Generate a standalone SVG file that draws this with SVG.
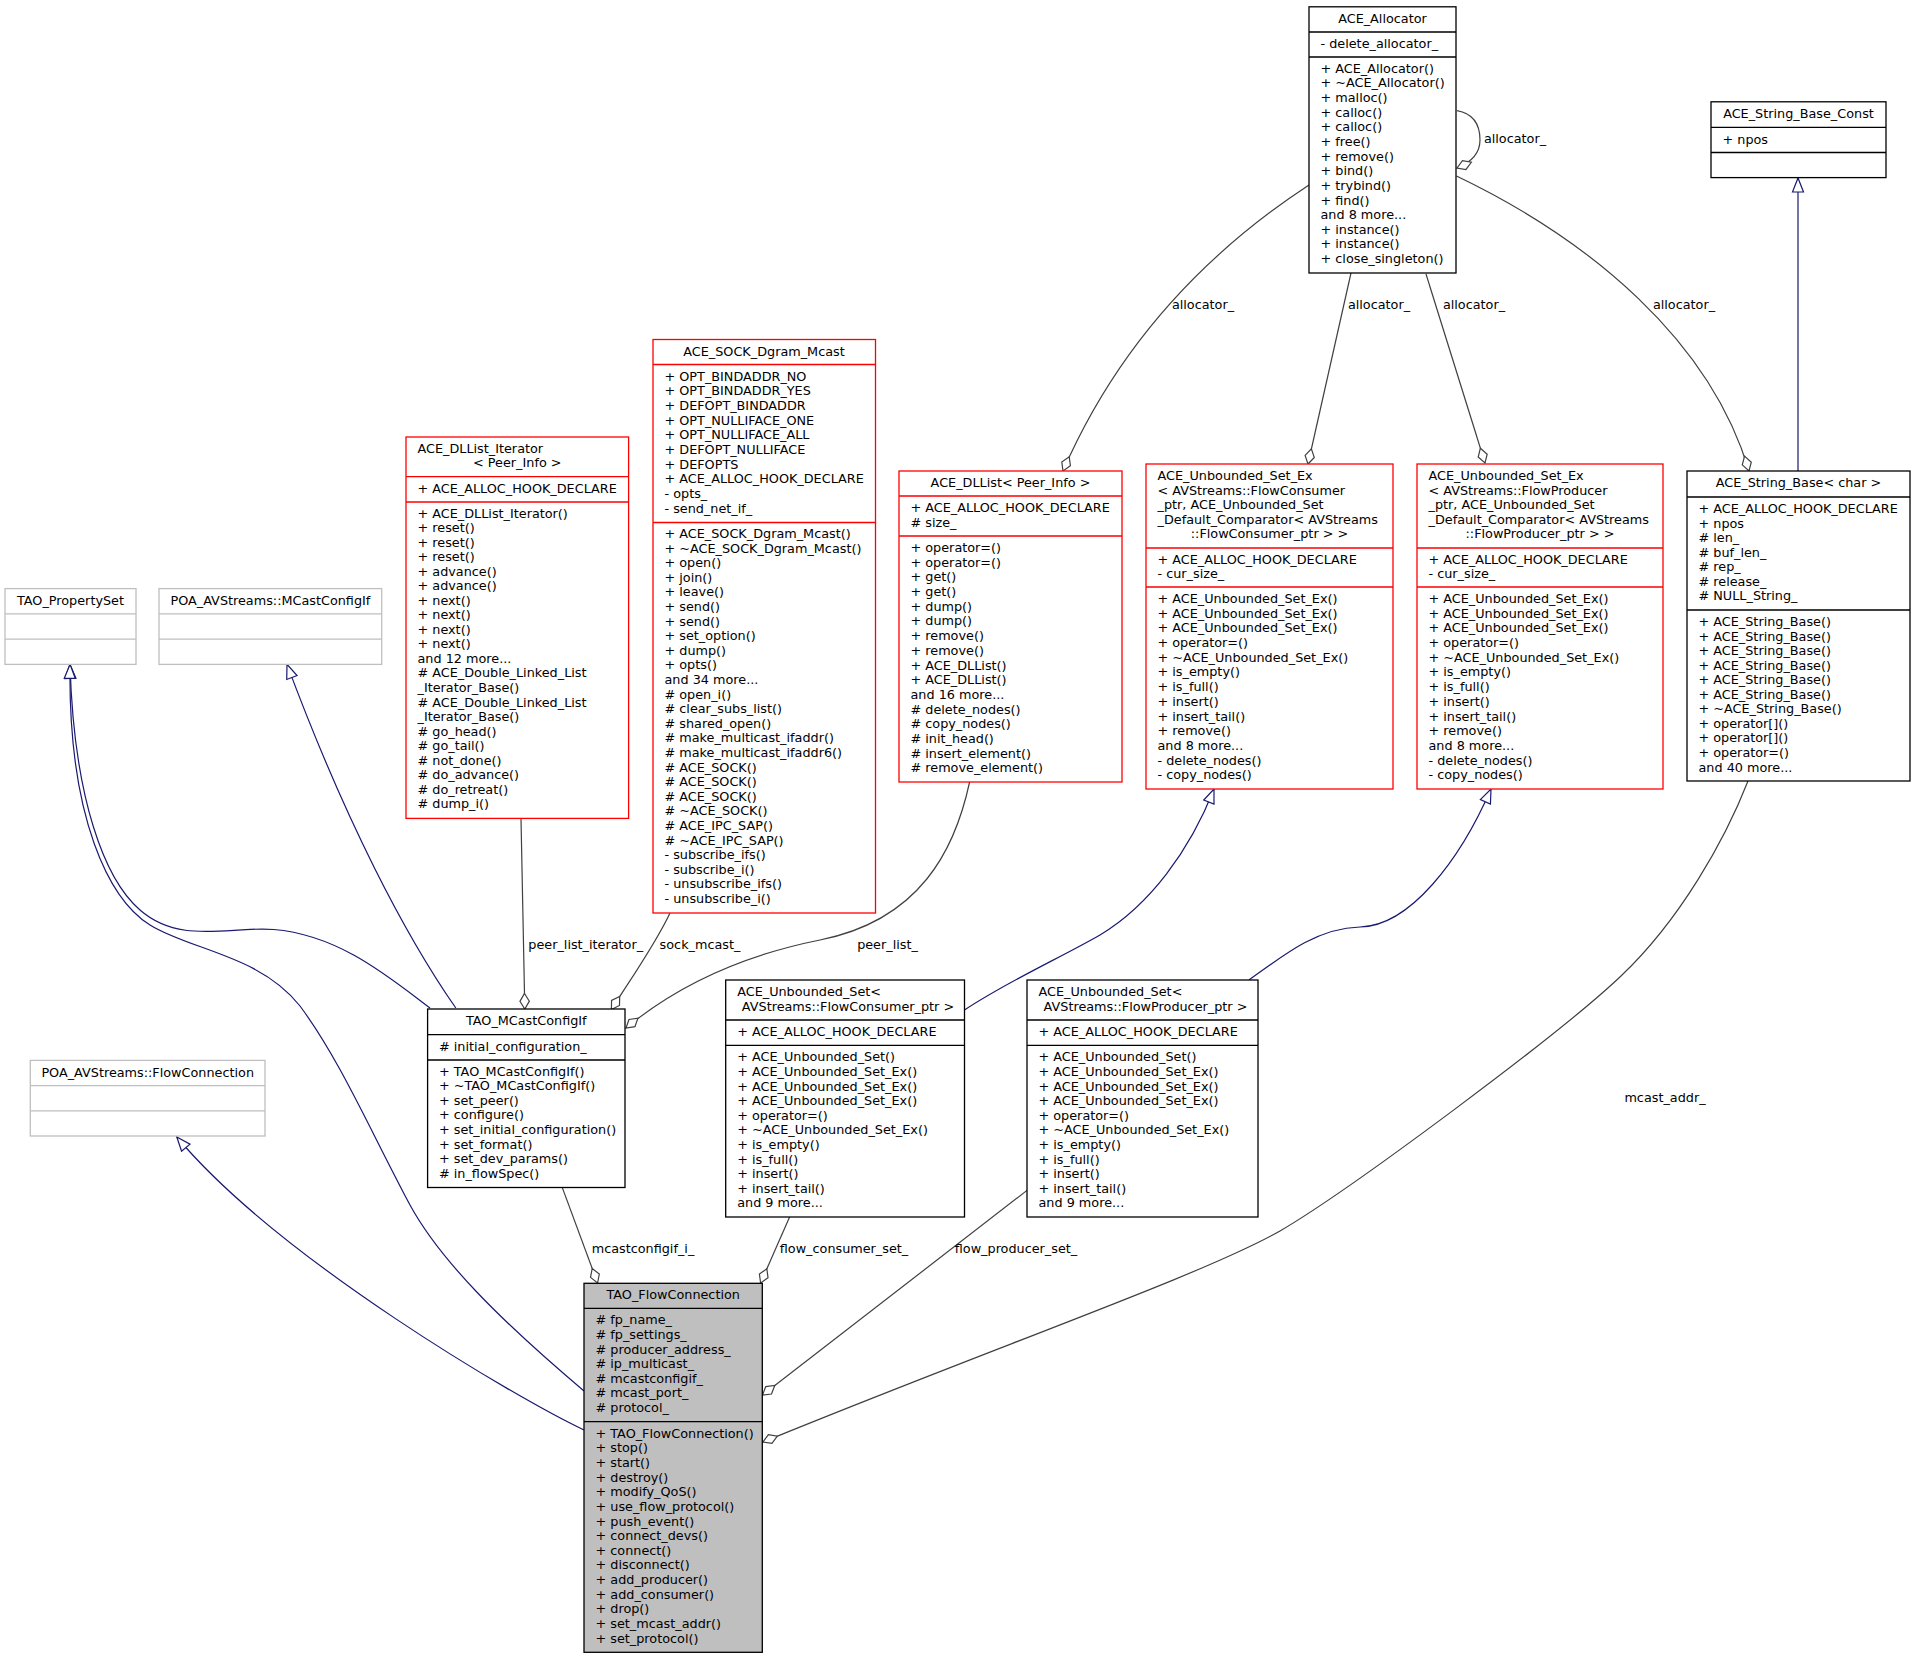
<svg xmlns="http://www.w3.org/2000/svg" width="1916" height="1659" viewBox="0 0 1916 1659">
<style>
text{font-family:"DejaVu Sans","Liberation Sans",sans-serif;font-size:12.8px;fill:#000}
.c{text-anchor:middle}
.box{fill:#fff;stroke:#000;stroke-width:1.3}
.red{fill:#fff;stroke:#ff0000;stroke-width:1.3}
.gry{fill:#fff;stroke:#bfbfbf;stroke-width:1.3}
.cur{fill:#bfbfbf;stroke:#000;stroke-width:1.3}
.sb{stroke:#000;stroke-width:1.3;fill:none}
.sr{stroke:#ff0000;stroke-width:1.3;fill:none}
.sg{stroke:#bfbfbf;stroke-width:1.3;fill:none}
.u{stroke:#404040;stroke-width:1.2;fill:none;marker-end:url(#dia)}
.i{stroke:#191970;stroke-width:1.2;fill:none;marker-end:url(#tri)}
</style>
<defs>
<marker id="tri" markerUnits="userSpaceOnUse" markerWidth="20" markerHeight="20" refX="15" refY="6" orient="auto" overflow="visible"><path d="M1,0.5 L15,6 L1,11.5 Z" fill="#fff" stroke="#191970" stroke-width="1.2"/></marker>
<marker id="dia" markerUnits="userSpaceOnUse" markerWidth="20" markerHeight="20" refX="16" refY="5.5" orient="auto" overflow="visible"><path d="M0.5,5.5 L8.25,0.8 L16,5.5 L8.25,10.2 Z" fill="#fff" stroke="#404040" stroke-width="1.2"/></marker>
</defs>
<rect width="1916" height="1659" fill="#fff"/>

<g id="edges">
<path class="u" d="M1309,185 C1210,250 1120,340 1063,471"/>
<path class="u" d="M1351,273 L1308,464"/>
<path class="u" d="M1426,274 L1485,463"/>
<path class="u" d="M1456.5,176 C1590,240 1710,340 1749,471"/>
<path class="u" d="M1457,110.6 C1476,114 1480,128 1480,140 C1480,152 1472,162 1457,168"/>
<path class="i" d="M1798,471 L1798,178"/>
<path class="i" d="M964.5,1010 C1010,980 1060,958 1100,935 C1150,905 1190,850 1214,789"/>
<path class="i" d="M1249,980 C1290,950 1320,928 1360,927 C1410,926 1460,860 1491,789"/>
<path class="u" d="M670,913 C655,945 630,980 611.4,1009.5"/>
<path class="u" d="M521,818.4 L524.8,1009"/>
<path class="u" d="M969.6,782 C955,850 920,920 820,940 C760,952 690,975 626,1028"/>
<path class="i" d="M430,1008 C390,978 340,935 273.6,929.5 C230,926 180,945 140,910 C105,880 74,800 70,664.4"/>
<path class="i" d="M584,1391 C500,1320 440,1260 410,1205 C370,1130 340,1060 300,1006 C260,955 190,950 150,925 C110,900 68,820 70,664.4"/>
<path class="i" d="M455.8,1008 C405,935 345,820 287,664.4"/>
<path class="i" d="M584,1430 C520,1400 280,1260 176.8,1137"/>
<path class="u" d="M562.3,1187.6 L597.6,1283"/>
<path class="u" d="M789.6,1217 L760.6,1283"/>
<path class="u" d="M1027,1190.4 L762.5,1395"/>
<path class="u" d="M1748,781 C1725,840 1680,920 1621,976 C1560,1034 1350,1190 1280,1231 C1200,1276 1000,1345 763,1442"/>
<text class="c" x="1203" y="309">allocator_</text>
<text class="c" x="1379" y="309">allocator_</text>
<text class="c" x="1474" y="309">allocator_</text>
<text class="c" x="1684" y="309">allocator_</text>
<text class="c" x="1515" y="142.5">allocator_</text>
<text class="c" x="585.7" y="949">peer_list_iterator_</text>
<text class="c" x="700" y="949">sock_mcast_</text>
<text class="c" x="887.5" y="949">peer_list_</text>
<text class="c" x="643" y="1253">mcastconfigif_i_</text>
<text class="c" x="844" y="1253">flow_consumer_set_</text>
<text class="c" x="1016" y="1253">flow_producer_set_</text>
<text class="c" x="1665" y="1102">mcast_addr_</text>
</g>

<g id="node-ACE_Allocator">
<rect class="box" x="1309" y="6.8" width="147" height="266.2"/>
<path class="sb" d="M1309,32 H1456 M1309,57 H1456"/>
<text class="c" x="1382.5" y="23">ACE_Allocator</text>
<text x="1320.5" y="48">- delete_allocator_</text>
<text x="1320.5" y="72.8"><tspan x="1320.5">+ ACE_Allocator()</tspan><tspan x="1320.5" dy="14.64">+ ~ACE_Allocator()</tspan><tspan x="1320.5" dy="14.64">+ malloc()</tspan><tspan x="1320.5" dy="14.64">+ calloc()</tspan><tspan x="1320.5" dy="14.64">+ calloc()</tspan><tspan x="1320.5" dy="14.64">+ free()</tspan><tspan x="1320.5" dy="14.64">+ remove()</tspan><tspan x="1320.5" dy="14.64">+ bind()</tspan><tspan x="1320.5" dy="14.64">+ trybind()</tspan><tspan x="1320.5" dy="14.64">+ find()</tspan><tspan x="1320.5" dy="14.64">and 8 more...</tspan><tspan x="1320.5" dy="14.64">+ instance()</tspan><tspan x="1320.5" dy="14.64">+ instance()</tspan><tspan x="1320.5" dy="14.64">+ close_singleton()</tspan></text>
</g>

<g id="node-ACE_String_Base_Const">
<rect class="box" x="1711" y="101.8" width="175" height="75.8"/>
<path class="sb" d="M1711,127.3 H1886 M1711,152.5 H1886"/>
<text class="c" x="1798.5" y="118">ACE_String_Base_Const</text>
<text x="1722.5" y="143.5">+ npos</text>
</g>

<g id="node-ACE_SOCK_Dgram_Mcast">
<rect class="red" x="653" y="339.5" width="222.5" height="573.5"/>
<path class="sr" d="M653,364.5 H875.5 M653,522.5 H875.5"/>
<text class="c" x="764" y="355.5">ACE_SOCK_Dgram_Mcast</text>
<text x="664.5" y="380.8"><tspan x="664.5">+ OPT_BINDADDR_NO</tspan><tspan x="664.5" dy="14.67">+ OPT_BINDADDR_YES</tspan><tspan x="664.5" dy="14.67">+ DEFOPT_BINDADDR</tspan><tspan x="664.5" dy="14.67">+ OPT_NULLIFACE_ONE</tspan><tspan x="664.5" dy="14.67">+ OPT_NULLIFACE_ALL</tspan><tspan x="664.5" dy="14.67">+ DEFOPT_NULLIFACE</tspan><tspan x="664.5" dy="14.67">+ DEFOPTS</tspan><tspan x="664.5" dy="14.67">+ ACE_ALLOC_HOOK_DECLARE</tspan><tspan x="664.5" dy="14.67">- opts_</tspan><tspan x="664.5" dy="14.67">- send_net_if_</tspan></text>
<text x="664.5" y="538"><tspan x="664.5">+ ACE_SOCK_Dgram_Mcast()</tspan><tspan x="664.5" dy="14.6">+ ~ACE_SOCK_Dgram_Mcast()</tspan><tspan x="664.5" dy="14.6">+ open()</tspan><tspan x="664.5" dy="14.6">+ join()</tspan><tspan x="664.5" dy="14.6">+ leave()</tspan><tspan x="664.5" dy="14.6">+ send()</tspan><tspan x="664.5" dy="14.6">+ send()</tspan><tspan x="664.5" dy="14.6">+ set_option()</tspan><tspan x="664.5" dy="14.6">+ dump()</tspan><tspan x="664.5" dy="14.6">+ opts()</tspan><tspan x="664.5" dy="14.6">and 34 more...</tspan><tspan x="664.5" dy="14.6"># open_i()</tspan><tspan x="664.5" dy="14.6"># clear_subs_list()</tspan><tspan x="664.5" dy="14.6"># shared_open()</tspan><tspan x="664.5" dy="14.6"># make_multicast_ifaddr()</tspan><tspan x="664.5" dy="14.6"># make_multicast_ifaddr6()</tspan><tspan x="664.5" dy="14.6"># ACE_SOCK()</tspan><tspan x="664.5" dy="14.6"># ACE_SOCK()</tspan><tspan x="664.5" dy="14.6"># ACE_SOCK()</tspan><tspan x="664.5" dy="14.6"># ~ACE_SOCK()</tspan><tspan x="664.5" dy="14.6"># ACE_IPC_SAP()</tspan><tspan x="664.5" dy="14.6"># ~ACE_IPC_SAP()</tspan><tspan x="664.5" dy="14.6">- subscribe_ifs()</tspan><tspan x="664.5" dy="14.6">- subscribe_i()</tspan><tspan x="664.5" dy="14.6">- unsubscribe_ifs()</tspan><tspan x="664.5" dy="14.6">- unsubscribe_i()</tspan></text>
</g>

<g id="node-ACE_DLList_Iterator">
<rect class="red" x="406" y="437" width="222.6" height="381.4"/>
<path class="sr" d="M406,476.6 H628.6 M406,502 H628.6"/>
<text x="417.5" y="452.8">ACE_DLList_Iterator</text>
<text class="c" x="517.3" y="467.4">&lt; Peer_Info &gt;</text>
<text x="417.5" y="492.5">+ ACE_ALLOC_HOOK_DECLARE</text>
<text x="417.5" y="517.5"><tspan x="417.5">+ ACE_DLList_Iterator()</tspan><tspan x="417.5" dy="14.54">+ reset()</tspan><tspan x="417.5" dy="14.54">+ reset()</tspan><tspan x="417.5" dy="14.54">+ reset()</tspan><tspan x="417.5" dy="14.54">+ advance()</tspan><tspan x="417.5" dy="14.54">+ advance()</tspan><tspan x="417.5" dy="14.54">+ next()</tspan><tspan x="417.5" dy="14.54">+ next()</tspan><tspan x="417.5" dy="14.54">+ next()</tspan><tspan x="417.5" dy="14.54">+ next()</tspan><tspan x="417.5" dy="14.54">and 12 more...</tspan><tspan x="417.5" dy="14.54"># ACE_Double_Linked_List</tspan><tspan x="417.5" dy="14.54">_Iterator_Base()</tspan><tspan x="417.5" dy="14.54"># ACE_Double_Linked_List</tspan><tspan x="417.5" dy="14.54">_Iterator_Base()</tspan><tspan x="417.5" dy="14.54"># go_head()</tspan><tspan x="417.5" dy="14.54"># go_tail()</tspan><tspan x="417.5" dy="14.54"># not_done()</tspan><tspan x="417.5" dy="14.54"># do_advance()</tspan><tspan x="417.5" dy="14.54"># do_retreat()</tspan><tspan x="417.5" dy="14.54"># dump_i()</tspan></text>
</g>

<g id="node-TAO_PropertySet">
<rect class="gry" x="5" y="588.6" width="131" height="75.8"/>
<path class="sg" d="M5,613.8 H136 M5,639.1 H136"/>
<text class="c" x="70.5" y="604.8">TAO_PropertySet</text>
</g>

<g id="node-POA_AVStreams_MCastConfigIf">
<rect class="gry" x="159" y="588.6" width="222.7" height="75.8"/>
<path class="sg" d="M159,613.8 H381.7 M159,639.1 H381.7"/>
<text class="c" x="270.4" y="604.8">POA_AVStreams::MCastConfigIf</text>
</g>

<g id="node-ACE_DLList">
<rect class="red" x="899" y="471" width="223" height="311"/>
<path class="sr" d="M899,496 H1122 M899,536 H1122"/>
<text class="c" x="1010.5" y="487">ACE_DLList&lt; Peer_Info &gt;</text>
<text x="910.5" y="512"><tspan x="910.5">+ ACE_ALLOC_HOOK_DECLARE</tspan><tspan x="910.5" dy="14.5"># size_</tspan></text>
<text x="910.5" y="552"><tspan x="910.5">+ operator=()</tspan><tspan x="910.5" dy="14.69">+ operator=()</tspan><tspan x="910.5" dy="14.69">+ get()</tspan><tspan x="910.5" dy="14.69">+ get()</tspan><tspan x="910.5" dy="14.69">+ dump()</tspan><tspan x="910.5" dy="14.69">+ dump()</tspan><tspan x="910.5" dy="14.69">+ remove()</tspan><tspan x="910.5" dy="14.69">+ remove()</tspan><tspan x="910.5" dy="14.69">+ ACE_DLList()</tspan><tspan x="910.5" dy="14.69">+ ACE_DLList()</tspan><tspan x="910.5" dy="14.69">and 16 more...</tspan><tspan x="910.5" dy="14.69"># delete_nodes()</tspan><tspan x="910.5" dy="14.69"># copy_nodes()</tspan><tspan x="910.5" dy="14.69"># init_head()</tspan><tspan x="910.5" dy="14.69"># insert_element()</tspan><tspan x="910.5" dy="14.69"># remove_element()</tspan></text>
</g>

<g id="node-ACE_Unbounded_Set_Ex_Consumer">
<rect class="red" x="1146" y="464" width="247" height="325"/>
<path class="sr" d="M1146,548 H1393 M1146,587 H1393"/>
<text x="1157.5" y="480"><tspan x="1157.5">ACE_Unbounded_Set_Ex</tspan><tspan x="1157.5" dy="14.6">&lt; AVStreams::FlowConsumer</tspan><tspan x="1157.5" dy="14.6">_ptr, ACE_Unbounded_Set</tspan><tspan x="1157.5" dy="14.6">_Default_Comparator&lt; AVStreams</tspan></text>
<text class="c" x="1269.5" y="538.4">::FlowConsumer_ptr &gt; &gt;</text>
<text x="1157.5" y="564"><tspan x="1157.5">+ ACE_ALLOC_HOOK_DECLARE</tspan><tspan x="1157.5" dy="14.4">- cur_size_</tspan></text>
<text x="1157.5" y="603"><tspan x="1157.5">+ ACE_Unbounded_Set_Ex()</tspan><tspan x="1157.5" dy="14.69">+ ACE_Unbounded_Set_Ex()</tspan><tspan x="1157.5" dy="14.69">+ ACE_Unbounded_Set_Ex()</tspan><tspan x="1157.5" dy="14.69">+ operator=()</tspan><tspan x="1157.5" dy="14.69">+ ~ACE_Unbounded_Set_Ex()</tspan><tspan x="1157.5" dy="14.69">+ is_empty()</tspan><tspan x="1157.5" dy="14.69">+ is_full()</tspan><tspan x="1157.5" dy="14.69">+ insert()</tspan><tspan x="1157.5" dy="14.69">+ insert_tail()</tspan><tspan x="1157.5" dy="14.69">+ remove()</tspan><tspan x="1157.5" dy="14.69">and 8 more...</tspan><tspan x="1157.5" dy="14.69">- delete_nodes()</tspan><tspan x="1157.5" dy="14.69">- copy_nodes()</tspan></text>
</g>

<g id="node-ACE_Unbounded_Set_Ex_Producer">
<rect class="red" x="1417" y="464" width="246" height="325"/>
<path class="sr" d="M1417,548 H1663 M1417,587 H1663"/>
<text x="1428.5" y="480"><tspan x="1428.5">ACE_Unbounded_Set_Ex</tspan><tspan x="1428.5" dy="14.6">&lt; AVStreams::FlowProducer</tspan><tspan x="1428.5" dy="14.6">_ptr, ACE_Unbounded_Set</tspan><tspan x="1428.5" dy="14.6">_Default_Comparator&lt; AVStreams</tspan></text>
<text class="c" x="1540" y="538.4">::FlowProducer_ptr &gt; &gt;</text>
<text x="1428.5" y="564"><tspan x="1428.5">+ ACE_ALLOC_HOOK_DECLARE</tspan><tspan x="1428.5" dy="14.4">- cur_size_</tspan></text>
<text x="1428.5" y="603"><tspan x="1428.5">+ ACE_Unbounded_Set_Ex()</tspan><tspan x="1428.5" dy="14.69">+ ACE_Unbounded_Set_Ex()</tspan><tspan x="1428.5" dy="14.69">+ ACE_Unbounded_Set_Ex()</tspan><tspan x="1428.5" dy="14.69">+ operator=()</tspan><tspan x="1428.5" dy="14.69">+ ~ACE_Unbounded_Set_Ex()</tspan><tspan x="1428.5" dy="14.69">+ is_empty()</tspan><tspan x="1428.5" dy="14.69">+ is_full()</tspan><tspan x="1428.5" dy="14.69">+ insert()</tspan><tspan x="1428.5" dy="14.69">+ insert_tail()</tspan><tspan x="1428.5" dy="14.69">+ remove()</tspan><tspan x="1428.5" dy="14.69">and 8 more...</tspan><tspan x="1428.5" dy="14.69">- delete_nodes()</tspan><tspan x="1428.5" dy="14.69">- copy_nodes()</tspan></text>
</g>

<g id="node-ACE_String_Base">
<rect class="box" x="1687" y="471" width="223" height="310"/>
<path class="sb" d="M1687,497 H1910 M1687,610 H1910"/>
<text class="c" x="1798.5" y="487">ACE_String_Base&lt; char &gt;</text>
<text x="1698.5" y="513"><tspan x="1698.5">+ ACE_ALLOC_HOOK_DECLARE</tspan><tspan x="1698.5" dy="14.57">+ npos</tspan><tspan x="1698.5" dy="14.57"># len_</tspan><tspan x="1698.5" dy="14.57"># buf_len_</tspan><tspan x="1698.5" dy="14.57"># rep_</tspan><tspan x="1698.5" dy="14.57"># release_</tspan><tspan x="1698.5" dy="14.57"># NULL_String_</tspan></text>
<text x="1698.5" y="626"><tspan x="1698.5">+ ACE_String_Base()</tspan><tspan x="1698.5" dy="14.55">+ ACE_String_Base()</tspan><tspan x="1698.5" dy="14.55">+ ACE_String_Base()</tspan><tspan x="1698.5" dy="14.55">+ ACE_String_Base()</tspan><tspan x="1698.5" dy="14.55">+ ACE_String_Base()</tspan><tspan x="1698.5" dy="14.55">+ ACE_String_Base()</tspan><tspan x="1698.5" dy="14.55">+ ~ACE_String_Base()</tspan><tspan x="1698.5" dy="14.55">+ operator[]()</tspan><tspan x="1698.5" dy="14.55">+ operator[]()</tspan><tspan x="1698.5" dy="14.55">+ operator=()</tspan><tspan x="1698.5" dy="14.55">and 40 more...</tspan></text>
</g>

<g id="node-POA_AVStreams_FlowConnection">
<rect class="gry" x="30.3" y="1060.4" width="234.7" height="75.6"/>
<path class="sg" d="M30.3,1085.6 H265 M30.3,1110.8 H265"/>
<text class="c" x="147.7" y="1076.6">POA_AVStreams::FlowConnection</text>
</g>

<g id="node-TAO_MCastConfigIf">
<rect class="box" x="427.6" y="1009" width="197.4" height="178.5"/>
<path class="sb" d="M427.6,1034.7 H625 M427.6,1060 H625"/>
<text class="c" x="526.3" y="1025">TAO_MCastConfigIf</text>
<text x="439" y="1050.7"># initial_configuration_</text>
<text x="439" y="1075.8"><tspan x="439">+ TAO_MCastConfigIf()</tspan><tspan x="439" dy="14.56">+ ~TAO_MCastConfigIf()</tspan><tspan x="439" dy="14.56">+ set_peer()</tspan><tspan x="439" dy="14.56">+ configure()</tspan><tspan x="439" dy="14.56">+ set_initial_configuration()</tspan><tspan x="439" dy="14.56">+ set_format()</tspan><tspan x="439" dy="14.56">+ set_dev_params()</tspan><tspan x="439" dy="14.56"># in_flowSpec()</tspan></text>
</g>

<g id="node-ACE_Unbounded_Set_Consumer">
<rect class="box" x="725.7" y="980" width="238.8" height="237"/>
<path class="sb" d="M725.7,1020 H964.5 M725.7,1045.3 H964.5"/>
<text x="737.2" y="996">ACE_Unbounded_Set&lt;</text>
<text class="c" x="848" y="1010.6">AVStreams::FlowConsumer_ptr &gt;</text>
<text x="737.2" y="1036">+ ACE_ALLOC_HOOK_DECLARE</text>
<text x="737.2" y="1061.3"><tspan x="737.2">+ ACE_Unbounded_Set()</tspan><tspan x="737.2" dy="14.6">+ ACE_Unbounded_Set_Ex()</tspan><tspan x="737.2" dy="14.6">+ ACE_Unbounded_Set_Ex()</tspan><tspan x="737.2" dy="14.6">+ ACE_Unbounded_Set_Ex()</tspan><tspan x="737.2" dy="14.6">+ operator=()</tspan><tspan x="737.2" dy="14.6">+ ~ACE_Unbounded_Set_Ex()</tspan><tspan x="737.2" dy="14.6">+ is_empty()</tspan><tspan x="737.2" dy="14.6">+ is_full()</tspan><tspan x="737.2" dy="14.6">+ insert()</tspan><tspan x="737.2" dy="14.6">+ insert_tail()</tspan><tspan x="737.2" dy="14.6">and 9 more...</tspan></text>
</g>

<g id="node-ACE_Unbounded_Set_Producer">
<rect class="box" x="1027" y="980" width="231" height="237"/>
<path class="sb" d="M1027,1020 H1258 M1027,1045.3 H1258"/>
<text x="1038.5" y="996">ACE_Unbounded_Set&lt;</text>
<text class="c" x="1145.5" y="1010.6">AVStreams::FlowProducer_ptr &gt;</text>
<text x="1038.5" y="1036">+ ACE_ALLOC_HOOK_DECLARE</text>
<text x="1038.5" y="1061.3"><tspan x="1038.5">+ ACE_Unbounded_Set()</tspan><tspan x="1038.5" dy="14.6">+ ACE_Unbounded_Set_Ex()</tspan><tspan x="1038.5" dy="14.6">+ ACE_Unbounded_Set_Ex()</tspan><tspan x="1038.5" dy="14.6">+ ACE_Unbounded_Set_Ex()</tspan><tspan x="1038.5" dy="14.6">+ operator=()</tspan><tspan x="1038.5" dy="14.6">+ ~ACE_Unbounded_Set_Ex()</tspan><tspan x="1038.5" dy="14.6">+ is_empty()</tspan><tspan x="1038.5" dy="14.6">+ is_full()</tspan><tspan x="1038.5" dy="14.6">+ insert()</tspan><tspan x="1038.5" dy="14.6">+ insert_tail()</tspan><tspan x="1038.5" dy="14.6">and 9 more...</tspan></text>
</g>

<g id="node-TAO_FlowConnection">
<rect class="cur" x="584" y="1283.3" width="178.3" height="369"/>
<path class="sb" d="M584,1308.3 H762.3 M584,1421.7 H762.3"/>
<text class="c" x="673.2" y="1299.3">TAO_FlowConnection</text>
<text x="595.5" y="1324.3"><tspan x="595.5"># fp_name_</tspan><tspan x="595.5" dy="14.63"># fp_settings_</tspan><tspan x="595.5" dy="14.63"># producer_address_</tspan><tspan x="595.5" dy="14.63"># ip_multicast_</tspan><tspan x="595.5" dy="14.63"># mcastconfigif_</tspan><tspan x="595.5" dy="14.63"># mcast_port_</tspan><tspan x="595.5" dy="14.63"># protocol_</tspan></text>
<text x="595.5" y="1437.7"><tspan x="595.5">+ TAO_FlowConnection()</tspan><tspan x="595.5" dy="14.64">+ stop()</tspan><tspan x="595.5" dy="14.64">+ start()</tspan><tspan x="595.5" dy="14.64">+ destroy()</tspan><tspan x="595.5" dy="14.64">+ modify_QoS()</tspan><tspan x="595.5" dy="14.64">+ use_flow_protocol()</tspan><tspan x="595.5" dy="14.64">+ push_event()</tspan><tspan x="595.5" dy="14.64">+ connect_devs()</tspan><tspan x="595.5" dy="14.64">+ connect()</tspan><tspan x="595.5" dy="14.64">+ disconnect()</tspan><tspan x="595.5" dy="14.64">+ add_producer()</tspan><tspan x="595.5" dy="14.64">+ add_consumer()</tspan><tspan x="595.5" dy="14.64">+ drop()</tspan><tspan x="595.5" dy="14.64">+ set_mcast_addr()</tspan><tspan x="595.5" dy="14.64">+ set_protocol()</tspan></text>
</g>
</svg>
